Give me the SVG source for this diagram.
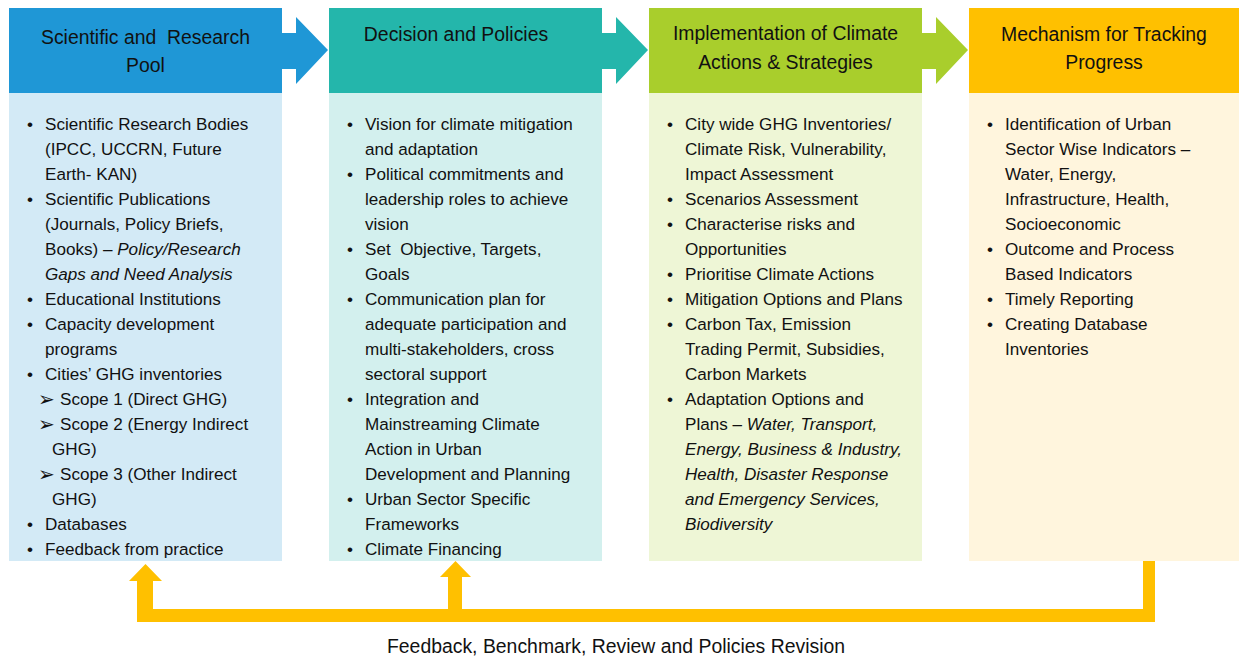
<svg xmlns="http://www.w3.org/2000/svg" width="1239" height="657" viewBox="0 0 1239 657">
<style>
.hd{font-family:"Liberation Sans",Arial,sans-serif;font-size:19.4px;fill:#111;text-anchor:middle}
.tx{font-family:"Liberation Sans",Arial,sans-serif;font-size:17.1px;fill:#111}
.it{font-style:italic}
.ar{font-family:"DejaVu Sans",sans-serif;font-size:20px;fill:#111}
.fb{font-family:"Liberation Sans",Arial,sans-serif;font-size:19.4px;fill:#111;text-anchor:middle}
</style>
<rect width="1239" height="657" fill="#fff"/>
<g id="connectors">
<polygon points="282,33 296,33 296,17 328,50 296,84 296,69 282,69" fill="#1F97D6"/>
<polygon points="602,33 616,33 616,17 648,50 616,84 616,69 602,69" fill="#24B6AB"/>
<polygon points="922,33 936,33 936,17 968,50 936,84 936,69 922,69" fill="#A9CE2C"/>
<path d="M1143,561 H1155 V622 H137 V581 H129 L145.5,564 L162,581 H153 V609 H448 V577 H440 L455.5,561 L471,577 H462 V609 H1143 Z" fill="#FFC000"/>
<text class="fb" x="616" y="653">Feedback, Benchmark, Review and Policies Revision</text>
</g>
<g id="node-scientific">
<rect x="9" y="8" width="273" height="85" fill="#1F97D6"/>
<rect x="9" y="93" width="273" height="468" fill="#D3EAF6"/>
<text class="hd" x="145.5" y="44" xml:space="preserve">Scientific and  Research</text>
<text class="hd" x="145.5" y="72">Pool</text>
<g class="tx">
<text x="27" y="130">•</text><text x="45" y="130">Scientific Research Bodies</text>
<text x="45" y="155">(IPCC, UCCRN, Future</text>
<text x="45" y="180">Earth- KAN)</text>
<text x="27" y="205">•</text><text x="45" y="205">Scientific Publications</text>
<text x="45" y="230">(Journals, Policy Briefs,</text>
<text x="45" y="255">Books) – <tspan class="it">Policy/Research</tspan></text>
<text x="45" y="280" class="it">Gaps and Need Analysis</text>
<text x="27" y="305">•</text><text x="45" y="305">Educational Institutions</text>
<text x="27" y="330">•</text><text x="45" y="330">Capacity development</text>
<text x="45" y="355">programs</text>
<text x="27" y="380">•</text><text x="45" y="380">Cities’ GHG inventories</text>
<text x="60" y="405">Scope 1 (Direct GHG)</text>
<text x="60" y="430">Scope 2 (Energy Indirect</text>
<text x="52" y="455">GHG)</text>
<text x="60" y="480">Scope 3 (Other Indirect</text>
<text x="52" y="505">GHG)</text>
<text x="27" y="530">•</text><text x="45" y="530">Databases</text>
<text x="27" y="555">•</text><text x="45" y="555">Feedback from practice</text>
</g>
<text class="ar" x="38" y="406">➢</text>
<text class="ar" x="38" y="431">➢</text>
<text class="ar" x="38" y="481">➢</text>
</g>
<g id="node-decision">
<rect x="329" y="8" width="273" height="85" fill="#24B6AB"/>
<rect x="329" y="93" width="273" height="468" fill="#D3F0EE"/>
<text class="hd" x="456" y="41">Decision and Policies</text>
<g class="tx">
<text x="347" y="130">•</text><text x="365" y="130">Vision for climate mitigation</text>
<text x="365" y="155">and adaptation</text>
<text x="347" y="180">•</text><text x="365" y="180">Political commitments and</text>
<text x="365" y="205">leadership roles to achieve</text>
<text x="365" y="230">vision</text>
<text x="347" y="255">•</text><text x="365" y="255" xml:space="preserve">Set  Objective, Targets,</text>
<text x="365" y="280">Goals</text>
<text x="347" y="305">•</text><text x="365" y="305">Communication plan for</text>
<text x="365" y="330">adequate participation and</text>
<text x="365" y="355">multi-stakeholders, cross</text>
<text x="365" y="380">sectoral support</text>
<text x="347" y="405">•</text><text x="365" y="405">Integration and</text>
<text x="365" y="430">Mainstreaming Climate</text>
<text x="365" y="455">Action in Urban</text>
<text x="365" y="480">Development and Planning</text>
<text x="347" y="505">•</text><text x="365" y="505">Urban Sector Specific</text>
<text x="365" y="530">Frameworks</text>
<text x="347" y="555">•</text><text x="365" y="555">Climate Financing</text>
</g>
</g>
<g id="node-implementation">
<rect x="649" y="8" width="273" height="85" fill="#A9CE2C"/>
<rect x="649" y="93" width="273" height="468" fill="#EEF6D6"/>
<text class="hd" x="785.5" y="40">Implementation of Climate</text>
<text class="hd" x="785.5" y="69">Actions &amp; Strategies</text>
<g class="tx">
<text x="667" y="130">•</text><text x="685" y="130">City wide GHG Inventories/</text>
<text x="685" y="155">Climate Risk, Vulnerability,</text>
<text x="685" y="180">Impact Assessment</text>
<text x="667" y="205">•</text><text x="685" y="205">Scenarios Assessment</text>
<text x="667" y="230">•</text><text x="685" y="230">Characterise risks and</text>
<text x="685" y="255">Opportunities</text>
<text x="667" y="280">•</text><text x="685" y="280">Prioritise Climate Actions</text>
<text x="667" y="305">•</text><text x="685" y="305">Mitigation Options and Plans</text>
<text x="667" y="330">•</text><text x="685" y="330">Carbon Tax, Emission</text>
<text x="685" y="355">Trading Permit, Subsidies,</text>
<text x="685" y="380">Carbon Markets</text>
<text x="667" y="405">•</text><text x="685" y="405">Adaptation Options and</text>
<text x="685" y="430">Plans – <tspan class="it">Water, Transport,</tspan></text>
<text x="685" y="455" class="it">Energy, Business &amp; Industry,</text>
<text x="685" y="480" class="it">Health, Disaster Response</text>
<text x="685" y="505" class="it">and Emergency Services,</text>
<text x="685" y="530" class="it">Biodiversity</text>
</g>
</g>
<g id="node-tracking">
<rect x="969" y="8" width="270" height="85" fill="#FFC000"/>
<rect x="969" y="93" width="270" height="468" fill="#FFF5DD"/>
<text class="hd" x="1104" y="41">Mechanism for Tracking</text>
<text class="hd" x="1104" y="69">Progress</text>
<g class="tx">
<text x="987" y="130">•</text><text x="1005" y="130">Identification of Urban</text>
<text x="1005" y="155">Sector Wise Indicators –</text>
<text x="1005" y="180">Water, Energy,</text>
<text x="1005" y="205">Infrastructure, Health,</text>
<text x="1005" y="230">Socioeconomic</text>
<text x="987" y="255">•</text><text x="1005" y="255">Outcome and Process</text>
<text x="1005" y="280">Based Indicators</text>
<text x="987" y="305">•</text><text x="1005" y="305">Timely Reporting</text>
<text x="987" y="330">•</text><text x="1005" y="330">Creating Database</text>
<text x="1005" y="355">Inventories</text>
</g>
</g>
</svg>
